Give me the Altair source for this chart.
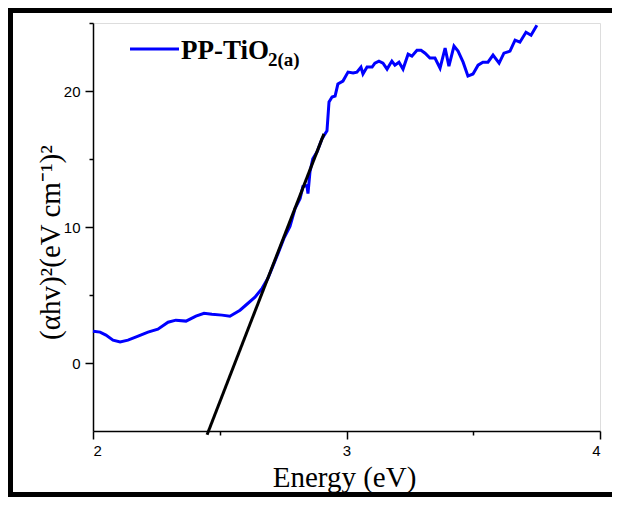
import altair as alt
import pandas as pd

energy = [2.000, 2.028, 2.051, 2.079, 2.107, 2.138, 2.178, 2.217, 2.256, 2.296,
          2.327, 2.367, 2.406, 2.438, 2.469, 2.509, 2.540, 2.580,
          2.607, 2.639, 2.667, 2.690, 2.706, 2.730, 2.753, 2.777, 2.797, 2.817,
          2.828, 2.844, 2.848, 2.856, 2.867, 2.884, 2.903, 2.923, 2.931, 2.943,
          2.955, 2.966, 2.986, 3.006, 3.026, 3.041, 3.057, 3.065, 3.081, 3.101,
          3.112, 3.128, 3.144, 3.160, 3.179, 3.191, 3.207, 3.223, 3.243, 3.258,
          3.278, 3.294, 3.310, 3.329, 3.349, 3.369, 3.389, 3.404, 3.424, 3.440,
          3.460, 3.479, 3.499, 3.519, 3.538, 3.558, 3.578, 3.602, 3.621, 3.645,
          3.665, 3.684, 3.708, 3.728, 3.751]
absorb = [2.34, 2.27, 2.05, 1.68, 1.54, 1.68, 1.98, 2.27, 2.49, 3.00,
          3.15, 3.08, 3.44, 3.66, 3.59, 3.52, 3.44, 3.88,
          4.32, 4.84, 5.49, 6.23, 6.96, 8.06, 9.16, 10.04, 11.36, 12.09,
          12.97, 13.04, 12.45, 14.07, 15.02, 15.53, 16.48, 17.07, 19.19, 19.56,
          19.63, 20.51, 20.73, 21.39, 21.32, 21.39, 21.76, 21.25, 21.76, 21.76,
          22.05, 22.20, 22.05, 21.61, 22.20, 21.90, 22.12, 21.61, 22.71, 22.56,
          23.00, 23.00, 22.78, 22.42, 22.42, 21.68, 23.15, 21.83, 23.30, 22.93,
          22.12, 21.10, 21.25, 21.90, 22.12, 22.12, 22.64, 22.05, 22.78, 22.93,
          23.74, 23.59, 24.32, 24.10, 24.84]

fit_energy = [2.450, 2.911]
fit_value = [-5.27, 16.85]

x_ticks = [2, 2.5, 3, 3.5, 4]
y_ticks = [0, 5, 10, 15, 20, 25]

series_main = "PP-TiO"
series_sub = "2(a)"
x_title = "Energy (eV)"
y_title = "(\u03b1hv)\u00b2(eV cm\u207b\u00b9)\u00b2"

curve = pd.DataFrame({"energy": energy, "value": absorb})
fit = pd.DataFrame({"energy": fit_energy, "value": fit_value})
one = pd.DataFrame({"k": [0]})

xscale = alt.Scale(domain=[2, 4], nice=False, zero=False)
yscale = alt.Scale(domain=[-5, 25], nice=False, zero=False)

common_axis = dict(
    grid=False,
    domainColor="black",
    domainWidth=1.5,
    tickColor="black",
    tickWidth=1.5,
    labelFont="Liberation Sans",
    labelFontSize=15,
    labelColor="black",
    titleFont="Liberation Serif",
    titleFontWeight="normal",
    titleColor="black",
    titleBaseline="alphabetic",
    titleAlign="center",
)

xaxis = alt.Axis(
    values=x_ticks,
    labelExpr="datum.value % 1 === 0 ? format(datum.value, 'd') : ''",
    tickSize={"condition": {"test": "datum.value % 1 === 0", "value": 8}, "value": 4},
    labelPadding=4,
    title=x_title,
    titleFontSize=29,
    titleX=251,
    titleY=55,
    **common_axis,
)
yaxis = alt.Axis(
    values=y_ticks,
    labelExpr="datum.value % 10 === 0 ? format(datum.value, 'd') : ''",
    tickSize={"condition": {"test": "datum.value % 10 === 0", "value": 8}, "value": 4},
    labelPadding=5,
    title=y_title,
    titleFontSize=29,
    titleAngle=-90,
    titleX=-34,
    titleY=219,
    **common_axis,
)

line = alt.Chart(curve).mark_line(color="#0000FF", strokeWidth=3).encode(
    x=alt.X("energy:Q", scale=xscale, axis=xaxis),
    y=alt.Y("value:Q", scale=yscale, axis=yaxis),
)
fitline = alt.Chart(fit).mark_line(color="black", strokeWidth=3).encode(
    x="energy:Q", y="value:Q"
)

leg_line = alt.Chart(one).mark_rule(color="#0000FF", strokeWidth=3).encode(
    x=alt.value(37), x2=alt.value(86), y=alt.value(26)
)
leg_text = alt.Chart(one).mark_text(
    text=series_main, font="Liberation Serif", fontWeight="bold", fontSize=27,
    align="left", baseline="alphabetic", color="black"
).encode(x=alt.value(88), y=alt.value(36))
leg_sub = alt.Chart(one).mark_text(
    text=series_sub, font="Liberation Serif", fontWeight="bold", fontSize=19,
    align="left", baseline="alphabetic", color="black"
).encode(x=alt.value(175), y=alt.value(43))

border_top = alt.Chart(one).mark_rule(color="black", strokeWidth=5).encode(
    x=alt.value(-85), x2=alt.value(519), y=alt.value(-12.5)
)
border_left = alt.Chart(one).mark_rule(color="black", strokeWidth=5).encode(
    x=alt.value(-82.5), y=alt.value(-15), y2=alt.value(474)
)
border_bottom = alt.Chart(one).mark_rule(color="black", strokeWidth=5).encode(
    x=alt.value(-85), x2=alt.value(519), y=alt.value(471.5)
)

chart = alt.layer(
    line, fitline, leg_line, leg_text, leg_sub, border_top, border_left, border_bottom
).properties(
    width=507,
    height=408,
    autosize=alt.AutoSizeParams(type="none"),
    padding={"left": 85, "top": 15, "right": 12, "bottom": 66},
).configure_view(stroke=None).configure(background="white")

chart.save("out.html", embed_options={"renderer": "svg", "actions": False})
